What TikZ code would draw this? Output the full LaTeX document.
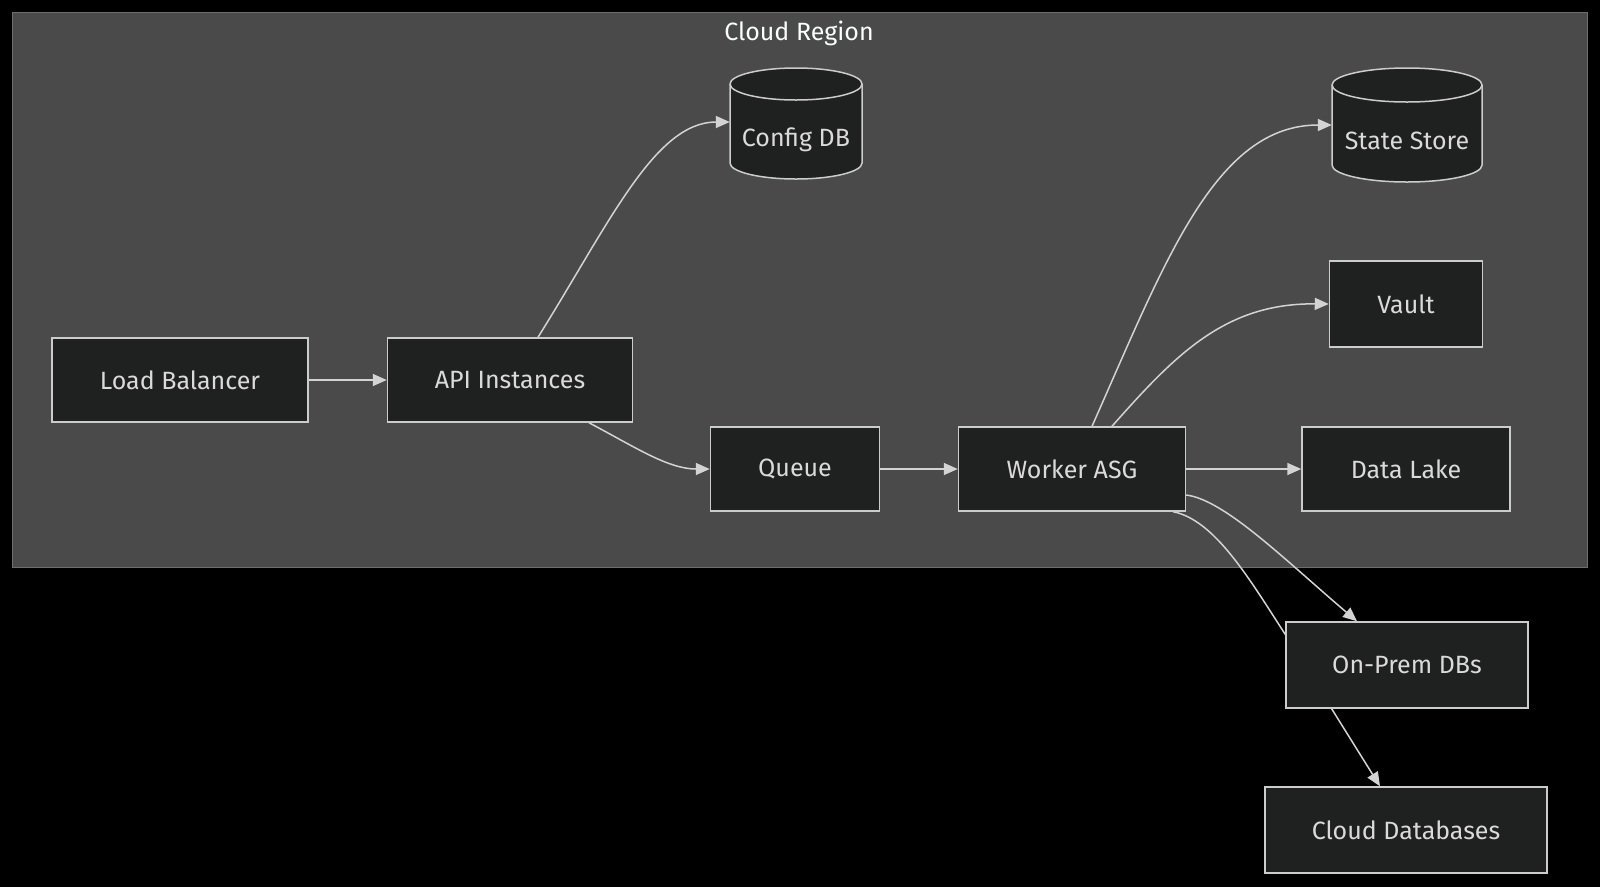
\documentclass[tikz,border=0pt]{standalone}
\usepackage{fontspec}
\setmainfont{Fira Sans}
\usetikzlibrary{arrows.meta}
\definecolor{clfill}{RGB}{73,74,73}
\definecolor{clline}{RGB}{110,110,110}
\definecolor{ndfill}{RGB}{31,32,32}
\definecolor{ndline}{RGB}{204,204,204}
\definecolor{edgecol}{RGB}{211,211,211}
\definecolor{txtcol}{RGB}{218,218,218}
\definecolor{titlecol}{RGB}{249,255,254}
\pgfdeclarelayer{bg}
\pgfdeclarelayer{edges}
\pgfdeclarelayer{cyls}
\pgfsetlayers{bg,edges,cyls,main}
\tikzset{
  box/.style={draw=ndline, fill=ndfill, line width=1.5pt, text=txtcol,
    font=\fontsize{25}{29}\selectfont, inner sep=0pt, minimum height=84pt},
  cylbox/.style={inner sep=0pt},
  cyltxt/.style={text=txtcol, font=\fontsize{25}{29}\selectfont, inner sep=0pt},
  cylsty/.style={draw=ndline, fill=ndfill, line width=1.5pt},
  link/.style={draw=edgecol, line width=1.5pt, -{Triangle[length=14pt,width=12pt]}},
}
\newcommand{\dbcyl}[5]{%
  \pgfmathsetmacro\cylrx{(#2-#1)/2}%
  \filldraw[cylsty] (#1,#3+#5) -- (#1,#4-#5)
    arc[start angle=180,end angle=360,x radius=\cylrx pt,y radius=#5pt]
    -- (#2,#3+#5)
    arc[start angle=0,end angle=180,x radius=\cylrx pt,y radius=#5pt] -- cycle;
  \draw[cylsty, fill=none] (#1,#3+#5)
    arc[start angle=180,end angle=360,x radius=\cylrx pt,y radius=#5pt];
}
\begin{document}
\begin{tikzpicture}[x=1pt,y=-1pt]
\useasboundingbox (0,0) rectangle (1600,887);
\begin{pgfonlayer}{bg}
  \fill[black] (0,0) rectangle (1600,887);
  \filldraw[fill=clfill, draw=clline, line width=1pt] (12,12) rectangle (1587,567);
\end{pgfonlayer}
\node[text=titlecol, font=\fontsize{25}{29}\selectfont] (title) at (799,33) {Cloud Region};

\node[box, minimum width=256pt] (lb) at (180,380) {Load Balancer};
\node[box, minimum width=245pt] (api) at (510,380) {API Instances};
\node[box, minimum width=169pt] (q) at (795,469) {Queue};
\node[box, minimum width=227pt] (wk) at (1072,469) {Worker ASG};
\node[box, minimum width=153pt, minimum height=86pt] (vault) at (1406,304) {Vault};
\node[box, minimum width=208pt] (dl) at (1406,469) {Data Lake};
\node[box, minimum width=242pt, minimum height=86pt] (op) at (1407,665) {On-Prem DBs};
\node[box, minimum width=282pt, minimum height=86pt] (cdb) at (1406,830) {Cloud Databases};

\begin{pgfonlayer}{cyls}
  \dbcyl{730}{862}{68}{179}{16}
  \dbcyl{1332}{1482}{68}{182}{17}
\end{pgfonlayer}
\node[cylbox, minimum width=132pt, minimum height=111pt,
  label={[cyltxt, yshift=-16pt]center:Config DB}] (cfg) at (796,123.5) {};
\node[cylbox, minimum width=150pt, minimum height=114pt,
  label={[cyltxt, yshift=-16pt]center:State Store}] (ss) at (1407,125) {};

\begin{pgfonlayer}{edges}
  \draw[link] (lb) -- (api);
  \draw[link] ([xshift=28pt]api.north) .. controls (610,222) and (655,122) .. (cfg.west |- 0,122);
  \draw[link] ([xshift=79pt]api.south) .. controls (635,447) and (668,469) .. (q.west);
  \draw[link] (q) -- (wk);
  \draw[link] ([xshift=20pt]wk.north) .. controls (1165,262) and (1215,125) .. (ss.west);
  \draw[link] ([xshift=40pt]wk.north) .. controls (1175,355) and (1225,303) .. (vault.west);
  \draw[link] (wk) -- (dl);
  \draw[link] ([yshift=-26pt]wk.east) .. controls (1225,500) and (1285,560) .. ([xshift=-50pt]op.north);
  \draw[link] ([xshift=-13pt]wk.south east) .. controls (1215,520) and (1250,580) .. (1285,634) -- ([xshift=-26pt]cdb.north);
\end{pgfonlayer}
\end{tikzpicture}
\end{document}
